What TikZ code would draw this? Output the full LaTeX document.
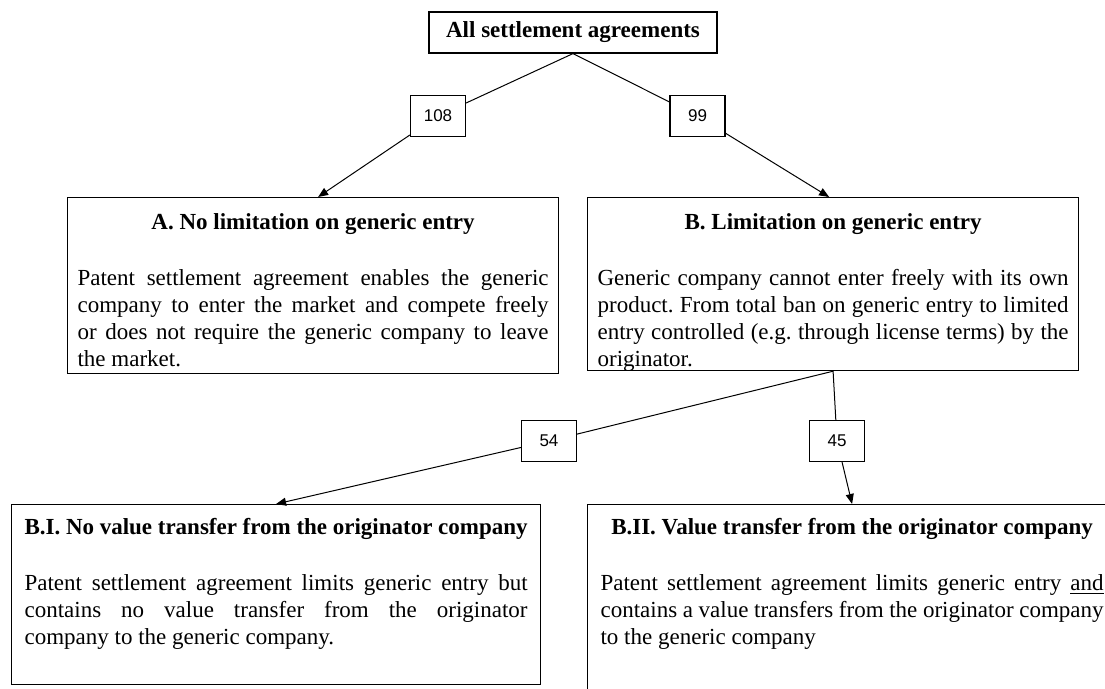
\documentclass[tikz,border=0pt]{standalone}
\usepackage{fontspec}
\setmainfont{Liberation Serif}
\newfontfamily\numfont{Liberation Sans}
\usetikzlibrary{arrows.meta}
\AtBeginDocument{\fontsize{11.5}{13.5}\selectfont\frenchspacing}

\newcommand{\boxtext}[4]{\parbox[t][#2][t]{#1}{{\centering\bfseries #3\par}\vspace{14.5pt}#4}}

\tikzset{
  topbox/.style={draw, line width=0.6pt, font=\bfseries, minimum width=144pt, minimum height=20.5pt, inner sep=0pt},
  numbox/.style={draw, fill=white, line width=0.6pt, font=\numfont\fontsize{8.5}{10}\selectfont, minimum width=27.5pt, minimum height=20.5pt, inner sep=0pt},
  catbox/.style={draw, line width=0.6pt, anchor=north west},
  arr/.style={line width=0.5pt, -{Triangle[length=5pt,width=4pt]}}
}

\begin{document}
\begin{tikzpicture}[x=0.5pt, y=-0.5pt]
\useasboundingbox (0,0) rectangle (1105,689);
\clip (0,0) rectangle (1105,689);
\node[topbox] (all) at (573,32.5) {All settlement agreements};
\node[numbox] (n108) at (438,116) {108};
\node[numbox] (n99) at (697.5,116) {99};
\node[catbox, inner xsep=5pt, inner ysep=8pt] (A) at (67,197)
  {\boxtext{235.5pt}{72pt}{A. No limitation on generic entry}
   {Patent settlement agreement enables the generic\linebreak company to enter the market and compete freely\linebreak or does not require the generic company to leave\linebreak the market.}};
\node[catbox, inner xsep=5pt, inner ysep=8pt] (B) at (587,197)
  {\boxtext{235.5pt}{70.5pt}{B. Limitation on generic entry}
   {Generic company cannot enter freely with its own\linebreak product. From total ban on generic entry to limited\linebreak entry controlled (e.g. through license terms) by the\linebreak originator.}};
\node[numbox] (n54) at (549,441) {54};
\node[numbox] (n45) at (837,441) {45};
\node[catbox, inner xsep=6.5pt, inner ysep=7pt] (BI) at (11,504)
  {\boxtext{251.5pt}{76pt}{B.I. No value transfer from the originator company}
   {Patent settlement agreement limits generic entry but\linebreak contains no value transfer from the originator\linebreak company to the generic company.}};
\node[catbox, inner xsep=6.5pt, inner ysep=7pt] (BII) at (587,504)
  {\boxtext{251.5pt}{86pt}{B.II. Value transfer from the originator company}
   {Patent settlement agreement limits generic entry \underline{and}\linebreak contains a value transfers from the originator company\linebreak to the generic company}};
% counts on the connectors
\draw[arr] (all.south) -- (n108) -- ([xshift=2.5pt]A.north);
\draw[arr] (all.south) -- (n99) -- ([xshift=-2pt]B.north);
\draw[arr] (B.south) -- (n54) -- (BI.north);
\draw[arr] (B.south) -- (n45) -- (BII.north);
\end{tikzpicture}
\end{document}
